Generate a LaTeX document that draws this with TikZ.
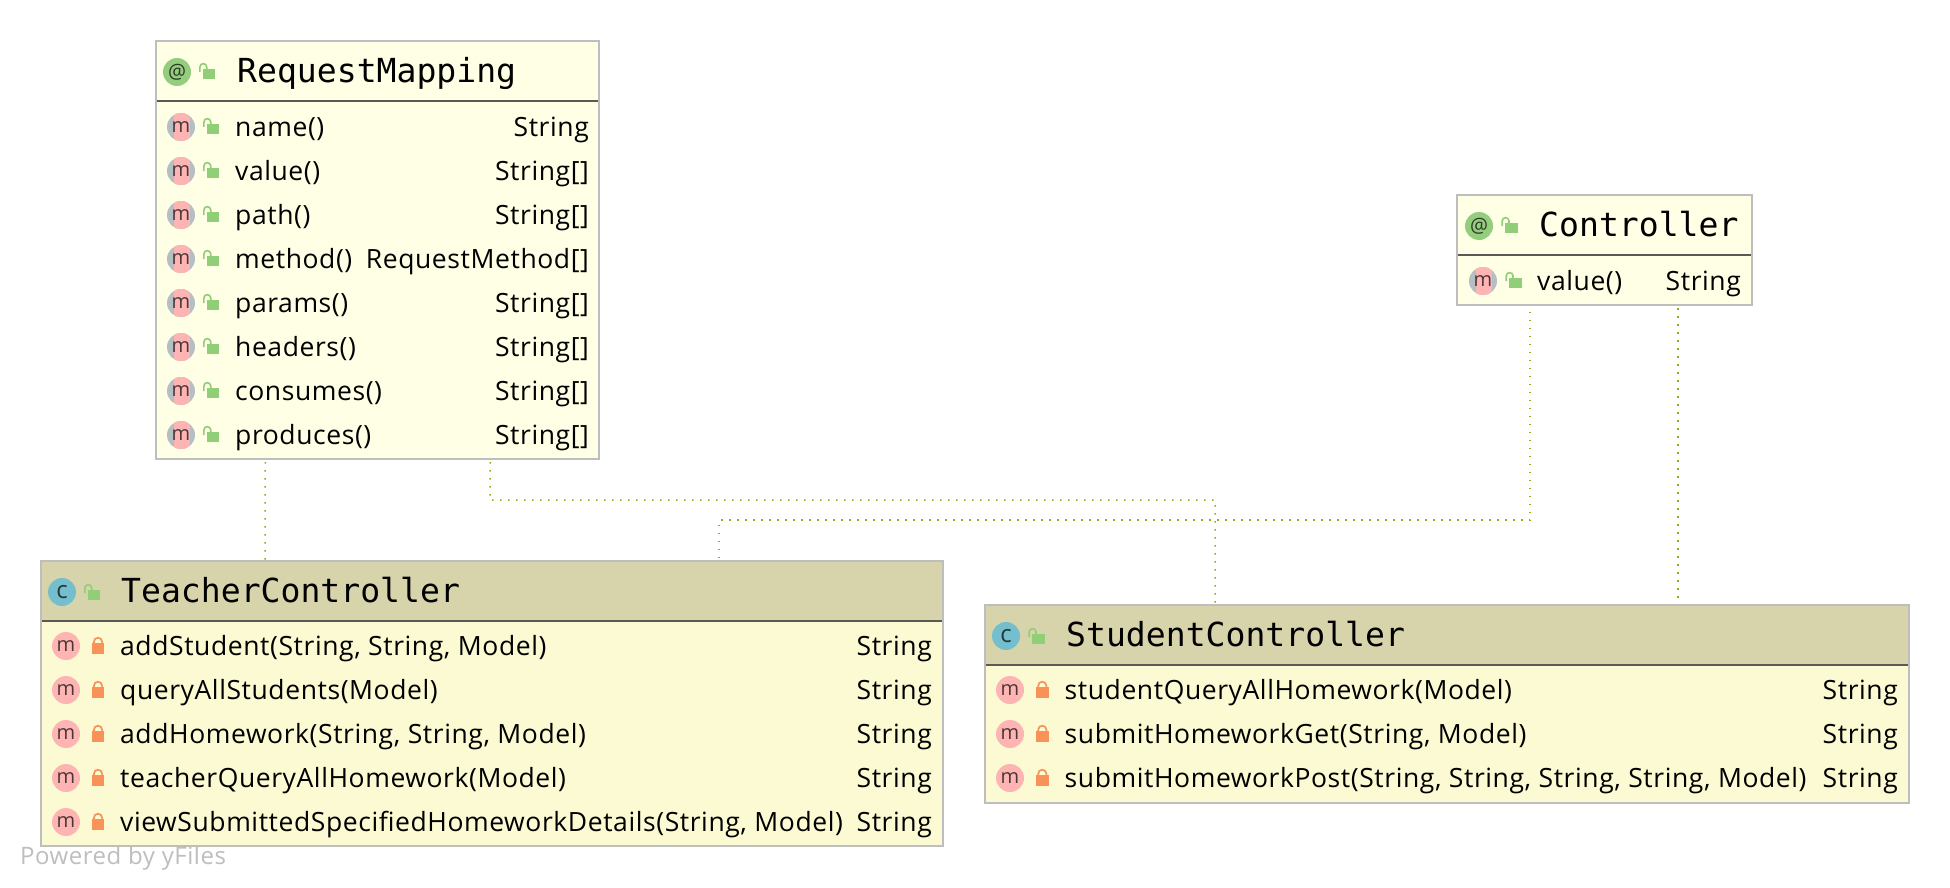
\documentclass[tikz,border=0pt]{standalone}
\usepackage{fontspec}
\setmainfont[LetterSpace=2.2]{Open Sans}
\newfontfamily\titlefont{DejaVu Sans Mono}
\usetikzlibrary{calc}
\definecolor{boxline}{HTML}{BEBEBE}
\definecolor{rulec}{HTML}{5A5A55}
\definecolor{annbody}{HTML}{FFFFE6}
\definecolor{clshead}{HTML}{D7D4AB}
\definecolor{clsbody}{HTML}{FBFAD2}
\definecolor{pinkm}{HTML}{FFB4B4}
\definecolor{greym}{HTML}{B4BEC3}
\definecolor{greenlock}{HTML}{90CE78}
\definecolor{orangelock}{HTML}{F99258}
\definecolor{greenat}{HTML}{95CD7E}
\definecolor{bluec}{HTML}{74BECE}
\definecolor{dep}{HTML}{A0A610}
\tikzset{
  box/.style={draw=boxline,line width=2pt,inner sep=0pt,outer sep=0pt},
  methodtext/.style={anchor=base west,inner sep=0pt,font=\fontsize{26.5}{30}\selectfont,text=black},
  typetext/.style={anchor=base east,inner sep=0pt,font=\fontsize{26.5}{30}\selectfont,text=black},
  titletext/.style={anchor=base west,inner sep=0pt,font=\titlefont\fontsize{33.1}{38}\selectfont,text=black},
  micon/.style={circle,minimum size=28pt,inner sep=0pt,fill=pinkm,text=black!70!pinkm,font=\fontsize{20}{24}\selectfont},
  annmicon/.style={circle,minimum size=28pt,inner sep=0pt,text=black!70!pinkm,font=\fontsize{20}{24}\selectfont},
  aticon/.style={circle,minimum size=28pt,inner sep=0pt,fill=greenat,text=black!70!greenat,font=\fontsize{20}{24}\selectfont},
  cicon/.style={circle,minimum size=28pt,inner sep=0pt,fill=bluec,text=black!70!bluec,font=\fontsize{24}{24}\selectfont},
  deps/.style={draw=dep,line width=1.5pt,dash pattern=on 1.5pt off 6.5pt},
  powered/.style={anchor=base west,inner sep=0pt,text=boxline,font=\fontsize{24}{28}\selectfont}
}
% x = left of lock body, y = row centre
\newcommand{\openlk}[2]{\begin{scope}[shift={(#1,#2)}]
  \fill[greenlock] (0,-3) rectangle (12.6,7);
  \draw[greenlock,line width=1.6pt] (-2.8,0) -- (-2.8,-5) arc[start angle=180,end angle=0,x radius=3.4,y radius=-3.4] -- (4,-3);
\end{scope}}
\newcommand{\closedlk}[2]{\begin{scope}[shift={(#1,#2)}]
  \fill[orangelock] (0,-3) rectangle (12.6,8);
  \draw[orangelock,line width=1.7pt] (2.2,-3) -- (2.2,-4.2) arc[start angle=180,end angle=0,x radius=4.1,y radius=-4.1] -- (10.4,-3);
\end{scope}}
% grey disc with a pink band, then its letter: name, x, y
\newcommand{\annm}[3]{\begin{scope}
  \fill[greym] (#2,#3) circle[radius=14];
  \clip (#2,#3) circle[radius=14];
  \fill[pinkm] (#2-7.5,#3-15) rectangle (#2+8.5,#3+15);
\end{scope}
  \node[annmicon] (#1) at (#2,#3) {m};}
\newcommand{\umlbox}[8]{% name, x0,y0,x1,y1, sep, head colour, body colour
  \node[box,fill=#8,minimum width={(#4)-(#2)},minimum height={(#5)-(#3)},anchor=north west] (#1) at (#2,#3) {};
  \fill[#7] (#2+1,#3+1) rectangle (#4-1,#6);
  \fill[#8] (#2+1,#6) rectangle (#4-1,#5-1);
  \draw[rulec,line width=2pt] (#2+1,#6) -- (#4-1,#6);
}
\begin{document}
\begin{tikzpicture}[x=1pt,y=-1pt]
\useasboundingbox (0,0) rectangle (1950,888);
\fill[white] (0,0) rectangle (1950,888);

% boxes
\umlbox{req}{155.5}{41}{599}{459}{101}{annbody}{annbody}
\umlbox{ctl}{1457}{195}{1752}{305}{255}{annbody}{annbody}
\umlbox{tea}{41}{561}{943}{846}{621}{clshead}{clsbody}
\umlbox{stu}{985}{605}{1909}{803}{665}{clshead}{clsbody}

% connectors
\coordinate (e1) at (490,500);
\coordinate (e2) at (1215,500);
\coordinate (e3) at (719,520);
\coordinate (e4) at (1530,520);
\draw[deps] ([xshift=-112pt,yshift=-3pt]req.south) -- ([xshift=-227pt]tea.north);
\draw[deps] ([xshift=113pt,yshift=-3pt]req.south) -- (e1) -- (e2) -- ([xshift=-232pt]stu.north);
\draw[deps] ([xshift=227pt,yshift=3pt]tea.north) -- (e3) -- (e4) -- ([xshift=-74.5pt,yshift=-3pt]ctl.south);
\draw[deps] ([xshift=73.5pt,yshift=-3pt]ctl.south) -- ([xshift=231pt,yshift=3pt]stu.north);

% headers
\node[aticon] (reqic) at (177,72) {@};
\openlk{202.7}{72}
\node[titletext] (reqt) at (237,83) {RequestMapping};
\node[aticon] (ctlic) at (1479,226) {@};
\openlk{1505}{226}
\node[titletext] (ctlt) at (1539,236.5) {Controller};
\node[cicon] (teaic) at (62,592) {c};
\openlk{87.7}{593}
\node[titletext] (teat) at (121,602) {TeacherController};
\node[cicon] (stuic) at (1006,636) {c};
\openlk{1032}{637}
\node[titletext] (stut) at (1066,646.5) {StudentController};

% RequestMapping rows
\foreach \i/\nm/\ty [count=\k from 0] in {a/name()/String,b/value()/String[],c/path()/String[],d/method()/RequestMethod[],e/params()/String[],f/headers()/String[],g/consumes()/String[],h/produces()/String[]}{
  \pgfmathsetmacro{\yy}{127+44*\k}
  \annm{req\i}{181}{\yy}
  \openlk{206.7}{\yy}
  \node[methodtext] (req\i n) at (235,\yy+9) {\nm};
  \node[typetext] (req\i t) at (589,\yy+9) {\ty};
}
% Controller row
\annm{ctla}{1483}{281}
\openlk{1509}{281}
\node[methodtext] (ctlan) at (1537,290) {value()};
\node[typetext] (ctlat) at (1741,290) {String};

% TeacherController rows
\foreach \i/\nm [count=\k from 0] in {a/{addStudent(String, String, Model)},b/{queryAllStudents(Model)},c/{addHomework(String, String, Model)},d/{teacherQueryAllHomework(Model)},e/{viewSubmittedSpecifiedHomeworkDetails(String, Model)}}{
  \pgfmathsetmacro{\yy}{646+44*\k}
  \node[micon] (tea\i) at (66,\yy) {m};
  \closedlk{91.7}{\yy}
  \node[methodtext] (tea\i n) at (120,\yy+9.5) {\nm};
  \node[typetext] (tea\i t) at (932,\yy+9.5) {String};
}
% StudentController rows
\foreach \i/\nm [count=\k from 0] in {a/{studentQueryAllHomework(Model)},b/{submitHomeworkGet(String, Model)},c/{submitHomeworkPost(String, String, String, String, Model)}}{
  \pgfmathsetmacro{\yy}{690+44*\k}
  \node[micon] (stu\i) at (1010,\yy) {m};
  \closedlk{1036}{\yy}
  \node[methodtext] (stu\i n) at (1064.5,\yy+9.5) {\nm};
  \node[typetext] (stu\i t) at (1898,\yy+9.5) {String};
}
\node[powered] (pw) at (20,864) {Powered by yFiles};
\end{tikzpicture}
\end{document}
